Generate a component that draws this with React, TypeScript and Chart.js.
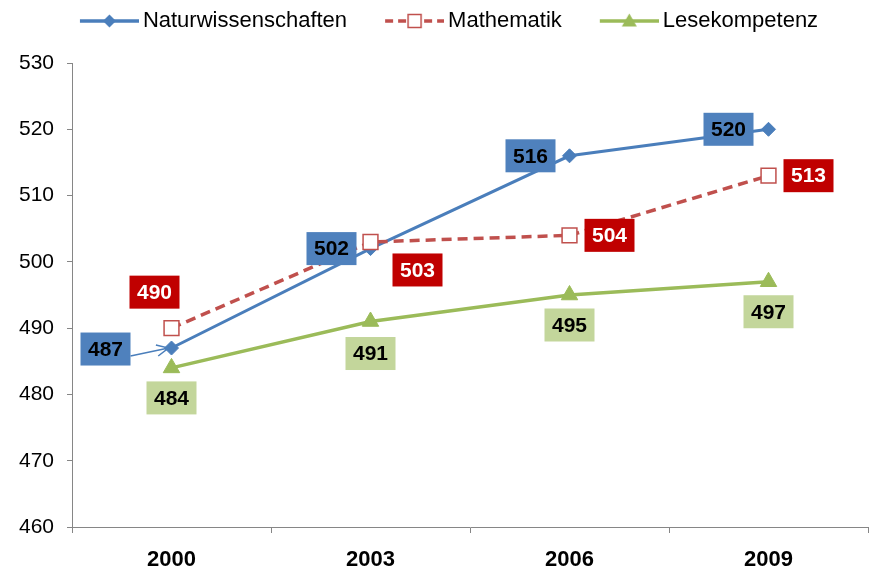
import React, { useEffect, useRef } from "react";
import { Chart, registerables } from "chart.js";

Chart.register(...registerables);

// ---- data ----
const years = ["2000", "2003", "2006", "2009"];
const seriesNames = ["Naturwissenschaften", "Mathematik", "Lesekompetenz"];
const naturwissenschaften = [487, 502, 516, 520];
const mathematik = [490, 503, 504, 513];
const lesekompetenz = [484, 491, 495, 497];
const yMin = 460;
const yMax = 530;
const yStep = 10;

// ---- label placement (pixel offsets of value boxes from their points) ----
const labelOffsets: number[][][] = [
  [[-66, 1], [-39, 0], [-39, 0], [-40, 0]],
  [[-17, -36], [47, 28], [40, 0], [40, 0]],
  [[0, 30], [0, 32], [0, 30], [0, 30]],
];
const labelLeader: boolean[][] = [
  [true, false, false, false],
  [false, false, false, false],
  [false, false, false, false],
];
const seriesColors = ["#4A7EBB", "#C0504D", "#9BBB59"];
const labelFill = ["#4F81BD", "#C00000", "#C3D69B"];
const labelTextColor = ["#000000", "#FFFFFF", "#000000"];

const FONT = "'Liberation Sans', Arial, Helvetica, sans-serif";
const LEGEND_BOX = 72;

function makeLegendImage(index: number): HTMLCanvasElement {
  const c = document.createElement("canvas");
  const W = LEGEND_BOX + 14;
  c.width = W;
  c.height = 22;
  const ctx = c.getContext("2d")!;
  const color = seriesColors[index];
  const x0 = W - 59;
  const x1 = W;
  const cy = 11;
  const cx = (x0 + x1) / 2;
  ctx.strokeStyle = color;
  ctx.lineWidth = 3.5;
  if (index === 1) {
    ctx.setLineDash([8, 5]);
  }
  ctx.beginPath();
  ctx.moveTo(x0, cy);
  ctx.lineTo(x1, cy);
  ctx.stroke();
  ctx.setLineDash([]);
  if (index === 0) {
    ctx.fillStyle = color;
    ctx.beginPath();
    ctx.moveTo(cx - 6.5, cy);
    ctx.lineTo(cx, cy - 6.5);
    ctx.lineTo(cx + 6.5, cy);
    ctx.lineTo(cx, cy + 6.5);
    ctx.closePath();
    ctx.fill();
  } else if (index === 1) {
    ctx.fillStyle = "#FFFFFF";
    ctx.fillRect(cx - 6.5, cy - 6.5, 13, 13);
    ctx.lineWidth = 1.5;
    ctx.strokeStyle = color;
    ctx.strokeRect(cx - 6.5, cy - 6.5, 13, 13);
  } else {
    ctx.fillStyle = color;
    ctx.beginPath();
    ctx.moveTo(cx, cy - 7.5);
    ctx.lineTo(cx + 7.5, cy + 5.5);
    ctx.lineTo(cx - 7.5, cy + 5.5);
    ctx.closePath();
    ctx.fill();
  }
  return c;
}

const valueBoxPlugin = {
  id: "valueBoxes",
  afterDatasetsDraw(chart: any) {
    const ctx = chart.ctx;
    ctx.save();
    ctx.font = `bold 21px ${FONT}`;
    ctx.textAlign = "center";
    ctx.textBaseline = "middle";
    const w = 50;
    const h = 33;
    chart.data.datasets.forEach((ds: any, i: number) => {
      const meta = chart.getDatasetMeta(i);
      meta.data.forEach((pt: any, j: number) => {
        const [dx, dy] = labelOffsets[i][j];
        const cx = pt.x + dx;
        const cy = pt.y + dy;
        if (labelLeader[i][j]) {
          const sx = cx + w / 2;
          const sy = cy + 7;
          const ex = pt.x - 3;
          const ey = pt.y;
          ctx.strokeStyle = seriesColors[i];
          ctx.lineWidth = 1.5;
          ctx.beginPath();
          ctx.moveTo(sx, sy);
          ctx.lineTo(ex, ey);
          const ang = Math.atan2(ey - sy, ex - sx);
          const hl = 13;
          ctx.moveTo(ex - hl * Math.cos(ang - 0.45), ey - hl * Math.sin(ang - 0.45));
          ctx.lineTo(ex, ey);
          ctx.lineTo(ex - hl * Math.cos(ang + 0.45), ey - hl * Math.sin(ang + 0.45));
          ctx.stroke();
        }
        ctx.fillStyle = labelFill[i];
        ctx.fillRect(cx - w / 2, cy - h / 2, w, h);
        ctx.fillStyle = labelTextColor[i];
        ctx.fillText(String(ds.data[j]), cx, cy + 1);
      });
    });
    ctx.restore();
  },
};

export default function App() {
  const ref = useRef<HTMLCanvasElement>(null);

  useEffect(() => {
    if (!ref.current) return;
    Chart.defaults.font.family = FONT;
    const legendImages = [0, 1, 2].map(makeLegendImage);
    const chart = new Chart(ref.current, {
      type: "line",
      data: {
        labels: years,
        datasets: [
          {
            label: seriesNames[0],
            data: naturwissenschaften,
            xAxisID: "x",
            yAxisID: "y",
            order: 3,
            borderColor: seriesColors[0],
            borderWidth: 3,
            tension: 0,
            pointStyle: "rectRot",
            pointRadius: 7,
            pointBackgroundColor: seriesColors[0],
            pointBorderColor: seriesColors[0],
            pointBorderWidth: 1,
          },
          {
            label: seriesNames[1],
            data: mathematik,
            xAxisID: "x",
            yAxisID: "y",
            order: 2,
            borderColor: seriesColors[1],
            borderWidth: 3.5,
            borderDash: [10, 6],
            tension: 0,
            pointStyle: "rect",
            pointRadius: 10.5,
            pointBackgroundColor: "#FFFFFF",
            pointBorderColor: seriesColors[1],
            pointBorderWidth: 1.5,
          },
          {
            label: seriesNames[2],
            data: lesekompetenz,
            xAxisID: "x",
            yAxisID: "y",
            order: 1,
            borderColor: seriesColors[2],
            borderWidth: 3.5,
            tension: 0,
            pointStyle: "triangle",
            pointRadius: 9.5,
            pointBackgroundColor: seriesColors[2],
            pointBorderColor: seriesColors[2],
            pointBorderWidth: 1,
          },
        ],
      },
      options: {
        responsive: false,
        animation: false,
        devicePixelRatio: 1,
        events: [],
        layout: { padding: { left: 0, right: 2, top: -8, bottom: 0 } },
        plugins: {
          tooltip: { enabled: false },
          legend: {
            display: true,
            position: "top",
            align: "center",
            labels: {
              usePointStyle: true,
              pointStyleWidth: LEGEND_BOX,
              padding: 18,
              color: "#000000",
              font: { size: 22, family: FONT },
              generateLabels: (ch: any) => {
                const items = Chart.defaults.plugins.legend.labels.generateLabels(ch);
                return items.map((it: any) => ({
                  ...it,
                  pointStyle: legendImages[it.datasetIndex],
                }));
              },
              sort: (a: any, b: any) => a.datasetIndex - b.datasetIndex,
            },
          },
        },
        scales: {
          x: {
            type: "category",
            position: "bottom",
            offset: true,
            grid: {
              display: true,
              drawOnChartArea: false,
              drawTicks: true,
              tickLength: 6,
              offset: true,
              color: "#868686",
            },
            border: { display: true, color: "#868686", width: 1 },
            ticks: {
              padding: 14,
              color: "#000000",
              font: { size: 22, weight: "bold", family: FONT },
              maxRotation: 0,
              autoSkip: false,
            },
            afterFit: (s: any) => {
              s.height = 45;
            },
          },
          xTop: {
            type: "category",
            axis: "x",
            position: "top",
            display: true,
            grid: { display: false },
            border: { display: false },
            ticks: { display: false },
            afterFit: (s: any) => {
              s.height = 21;
            },
          },
          y: {
            type: "linear",
            position: "left",
            min: yMin,
            max: yMax,
            ticks: {
              stepSize: yStep,
              padding: 13,
              color: "#000000",
              font: { size: 21, family: FONT },
            },
            grid: {
              drawOnChartArea: false,
              drawTicks: true,
              tickLength: 5,
              color: "#868686",
            },
            border: { display: true, color: "#868686", width: 1 },
            afterFit: (s: any) => {
              s.width = 72;
            },
          },
        },
      } as any,
      plugins: [valueBoxPlugin],
    });
    return () => chart.destroy();
  }, []);

  return (
    <div
      style={{
        position: "fixed",
        left: 0,
        top: 0,
        width: 869,
        height: 572,
        overflow: "hidden",
        background: "#FFFFFF",
      }}
    >
      <canvas
        ref={ref}
        width={880}
        height={572}
        style={{ display: "block", width: 880, height: 572 }}
      />
    </div>
  );
}
